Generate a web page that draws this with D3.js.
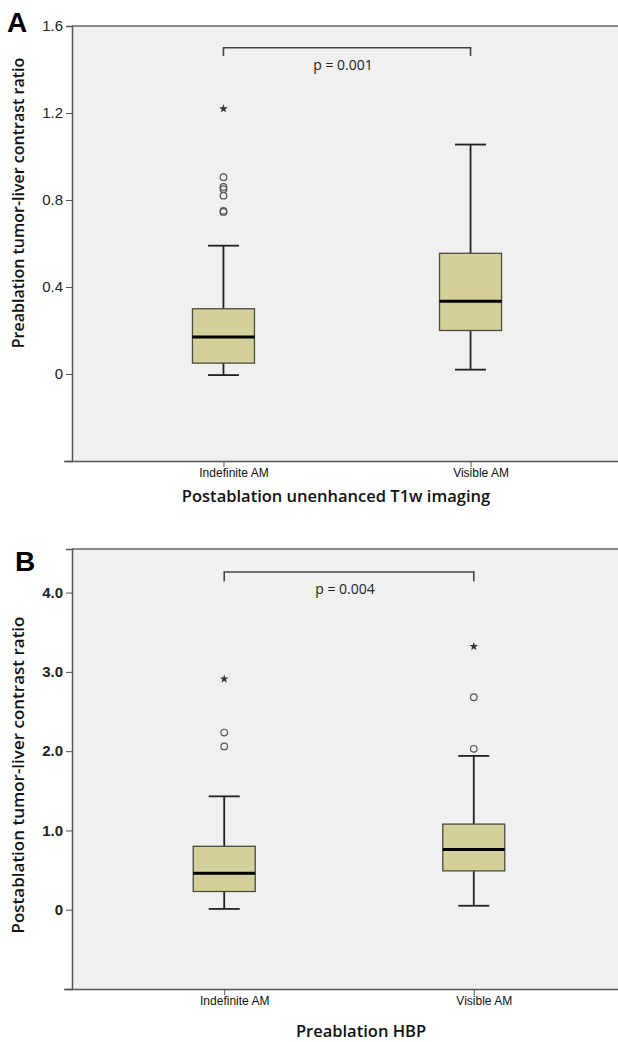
<!DOCTYPE html>
<html>
<head>
<meta charset="utf-8">
<script src="https://cdn.jsdelivr.net/npm/d3@7"></script>
<style>
  body { margin: 0; background: #fff; }
  svg { display: block; font-family: "Open Sans", "Noto Sans", sans-serif; }
</style>
</head>
<body>
<svg width="618" height="1042"></svg>
<script>
// groups
var groups = ["Indefinite AM", "Visible AM"];

// panel A: preablation tumor-liver contrast ratio
var aWhiskerLow  = [-0.005, 0.02];
var aQ1          = [0.05, 0.20];
var aMedian      = [0.17, 0.335];
var aQ3          = [0.30, 0.555];
var aWhiskerHigh = [0.59, 1.055];
var aOutliers    = [[0.905, 0.86, 0.85, 0.82, 0.75, 0.745], []];
var aExtremes    = [[1.22], []];
var aTicks       = [-0.4, 0, 0.4, 0.8, 1.2, 1.6];
var aBracket     = [1.50, 1.462];

// panel B: postablation tumor-liver contrast ratio
var bWhiskerLow  = [0.01, 0.05];
var bQ1          = [0.23, 0.49];
var bMedian      = [0.46, 0.76];
var bQ3          = [0.80, 1.08];
var bWhiskerHigh = [1.43, 1.94];
var bOutliers    = [[2.235, 2.06], [2.68, 2.03]];
var bExtremes    = [[2.91], [3.32]];
var bTicks       = [-1, 0, 1, 2, 3, 4];
var bBracket     = [4.26, 4.14];

var svg = d3.select("svg");

// 箱ひげ図1枚分
function draw_panel(opt){
    let g = svg.append("g");
    let x = d3.scalePoint().domain(groups).range([72, opt.xRight]).padding(opt.pad);
    let y = d3.scaleLinear().domain(opt.domain).range([opt.bottom, opt.top]);

    // 背景
    g.append("rect")
        .attr("x", 72).attr("y", opt.top)
        .attr("width", 618 - 72).attr("height", opt.bottom - opt.top)
        .attr("fill", "#f0f0f0");
    g.append("line")
        .attr("x1", 72).attr("x2", 618)
        .attr("y1", opt.top).attr("y2", opt.top)
        .attr("stroke", "#8a8a8a").attr("stroke-width", 2);

    // y軸
    let yAxis = g.append("g")
        .attr("transform", "translate(72,0)")
        .call(d3.axisLeft(y).tickValues(opt.ticks).tickSize(6).tickPadding(3)
            .tickFormat(function(d){
                if (d === opt.ticks[0]) return "";
                return d === 0 ? "0" : d3.format(".1f")(d);
            }));
    yAxis.select(".domain").attr("stroke", "#555").attr("stroke-width", 1.5);
    yAxis.selectAll(".tick line").attr("stroke", "#555");
    yAxis.selectAll(".tick text")
        .attr("fill", "#222")
        .style("font-size", "15px")
        .style("font-weight", opt.tickWeight);

    // x軸
    let xAxis = g.append("g")
        .attr("transform", "translate(0," + opt.bottom + ")")
        .call(d3.axisBottom(x).tickSize(6).tickSizeOuter(0).tickPadding(1));
    xAxis.select(".domain").attr("d", "M64,0.5H618").attr("stroke", "#555").attr("stroke-width", 1.5);
    xAxis.selectAll(".tick line").attr("stroke", "#555");
    xAxis.selectAll(".tick text")
        .attr("dx", 10)
        .attr("fill", "#111")
        .style("font-size", "12px");

    // ひげ
    let bw = 62, cw = 31;
    let items = groups.map(function(name, i){
        return {name: name, lo: opt.lo[i], q1: opt.q1[i], med: opt.med[i], q3: opt.q3[i], hi: opt.hi[i]};
    });
    let gb = g.selectAll(".bx").data(items).enter().append("g").attr("class", "bx");
    gb.append("line")
        .attr("x1", function(d){ return x(d.name); })
        .attr("x2", function(d){ return x(d.name); })
        .attr("y1", function(d){ return y(d.lo); })
        .attr("y2", function(d){ return y(d.hi); })
        .attr("stroke", "#222").attr("stroke-width", 1.8);
    ["lo", "hi"].forEach(function(k){
        gb.append("line")
            .attr("x1", function(d){ return x(d.name) - cw/2; })
            .attr("x2", function(d){ return x(d.name) + cw/2; })
            .attr("y1", function(d){ return y(d[k]); })
            .attr("y2", function(d){ return y(d[k]); })
            .attr("stroke", "#222").attr("stroke-width", 1.8);
    });
    // 箱
    gb.append("rect")
        .attr("x", function(d){ return x(d.name) - bw/2; })
        .attr("y", function(d){ return y(d.q3); })
        .attr("width", bw)
        .attr("height", function(d){ return y(d.q1) - y(d.q3); })
        .attr("fill", "#d4d09a")
        .attr("stroke", "#4a4a40").attr("stroke-width", 1.3);
    gb.append("line")
        .attr("x1", function(d){ return x(d.name) - bw/2; })
        .attr("x2", function(d){ return x(d.name) + bw/2; })
        .attr("y1", function(d){ return y(d.med); })
        .attr("y2", function(d){ return y(d.med); })
        .attr("stroke", "#000").attr("stroke-width", 3);

    // 外れ値
    groups.forEach(function(name, i){
        g.selectAll(null).data(opt.out[i]).enter().append("circle")
            .attr("cx", x(name)).attr("cy", function(d){ return y(d); })
            .attr("r", 3.3)
            .attr("fill", "none").attr("stroke", "#555").attr("stroke-width", 1.2);
        g.selectAll(null).data(opt.ext[i]).enter().append("path")
            .attr("d", d3.symbol().type(d3.symbolStar).size(24))
            .attr("transform", function(d){ return "translate(" + x(name) + "," + y(d) + ")"; })
            .attr("fill", "#333");
    });

    // 検定ブラケット
    let x0 = x(groups[0]), x1 = x(groups[1]);
    g.append("path")
        .attr("d", "M" + x0 + "," + y(opt.bracket[1]) + "V" + y(opt.bracket[0]) +
                   "H" + x1 + "V" + y(opt.bracket[1]))
        .attr("fill", "none").attr("stroke", "#444").attr("stroke-width", 1.6);
    g.append("text")
        .attr("x", (x0 + x1) / 2 - 4).attr("y", y(opt.bracket[0]) + 22)
        .attr("text-anchor", "middle")
        .attr("fill", "#222")
        .style("font-size", "14px")
        .text(opt.p);

    // タイトル
    g.append("text")
        .attr("transform", "translate(24," + opt.yTitleY + ") rotate(-90)")
        .attr("text-anchor", "middle")
        .attr("fill", "#111")
        .style("font-size", opt.yTitleSize)
        .style("font-weight", 600)
        .text(opt.yTitle);
    g.append("text")
        .attr("x", opt.xTitleX).attr("y", opt.xTitleY)
        .attr("text-anchor", "middle")
        .attr("fill", "#111")
        .style("font-size", "16.5px")
        .style("font-weight", 600)
        .text(opt.xTitle);
    g.append("text")
        .attr("x", opt.labelX).attr("y", opt.labelY)
        .attr("fill", "#000")
        .style("font-family", "'Liberation Sans', Arial, sans-serif")
        .style("font-size", "28px")
        .style("font-weight", 700)
        .text(opt.label);
}

draw_panel({
    label: "A", labelX: 7, labelY: 32,
    top: 26, bottom: 461, domain: [-0.4, 1.6], ticks: aTicks, tickWeight: 400,
    xRight: 622, pad: 0.613,
    lo: aWhiskerLow, q1: aQ1, med: aMedian, q3: aQ3, hi: aWhiskerHigh,
    out: aOutliers, ext: aExtremes, bracket: aBracket, p: "p = 0.001",
    yTitle: "Preablation tumor-liver contrast ratio", yTitleY: 203, yTitleSize: "16px",
    xTitle: "Postablation unenhanced T1w imaging", xTitleX: 336, xTitleY: 502
});

draw_panel({
    label: "B", labelX: 15, labelY: 571,
    top: 549, bottom: 989, domain: [-1, 4.55], ticks: bTicks, tickWeight: 600,
    xRight: 626, pad: 0.61,
    lo: bWhiskerLow, q1: bQ1, med: bMedian, q3: bQ3, hi: bWhiskerHigh,
    out: bOutliers, ext: bExtremes, bracket: bBracket, p: "p = 0.004",
    yTitle: "Postablation tumor-liver contrast ratio", yTitleY: 775, yTitleSize: "17px",
    xTitle: "Preablation HBP", xTitleX: 361, xTitleY: 1037
});
</script>
</body>
</html>
